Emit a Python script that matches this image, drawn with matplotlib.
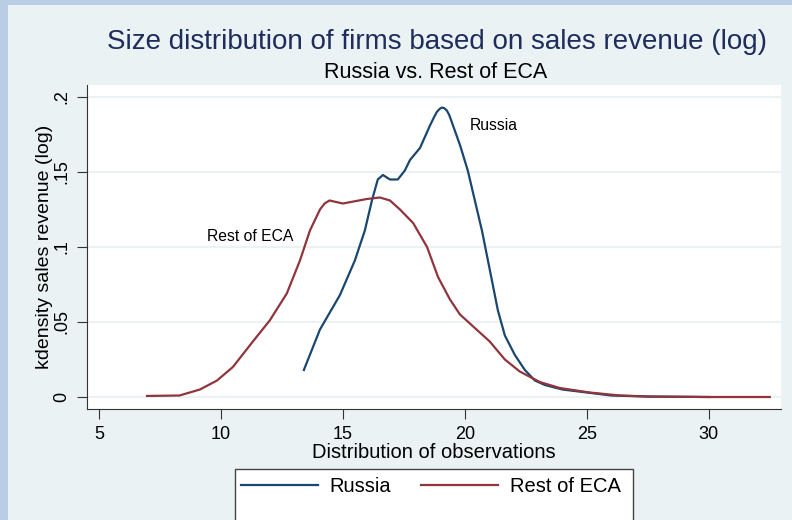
import matplotlib
matplotlib.use("Agg")
import matplotlib.pyplot as plt
from matplotlib.patches import Rectangle

plt.rcParams['font.family'] = ['Liberation Sans', 'DejaVu Sans']

# kernel density of log sales revenue
russia_x = [13.4, 14.06, 14.88, 15.49, 15.9, 16.19, 16.43, 16.64, 16.93, 17.25, 17.54,
            17.75, 18.16, 18.57, 18.72, 18.85, 18.96, 19.06, 19.16, 19.26, 19.36, 19.47,
            19.8, 20.12, 20.41, 20.7, 21.02, 21.35, 21.64, 22.05, 22.46, 22.87, 23.28,
            24.0, 25.0, 26.0, 27.5, 30.0]
russia_y = [0.018, 0.045, 0.068, 0.091, 0.111, 0.131, 0.145, 0.148, 0.145, 0.145, 0.151,
            0.158, 0.166, 0.181, 0.186, 0.190, 0.192, 0.193, 0.1925, 0.191, 0.188, 0.183,
            0.168, 0.151, 0.131, 0.111, 0.085, 0.058, 0.041, 0.028, 0.018, 0.011, 0.008,
            0.005, 0.003, 0.001, 0.0003, 0.0]

rest_x = [6.97, 8.3, 9.14, 9.84, 10.49, 11.31, 12.0, 12.7, 13.24, 13.65, 14.06, 14.25,
          14.45, 15.0, 15.98, 16.52, 16.93, 17.34, 17.88, 18.45, 18.9, 19.39, 19.8, 20.41,
          21.02, 21.64, 22.25, 23.07, 23.89, 25.12, 26.35, 27.6, 30.0, 32.5]
rest_y = [0.0007, 0.001, 0.005, 0.011, 0.020, 0.037, 0.051, 0.069, 0.091, 0.111, 0.125, 0.129,
          0.131, 0.129, 0.132, 0.133, 0.131, 0.125, 0.116, 0.100, 0.080, 0.065, 0.055, 0.046,
          0.037, 0.025, 0.017, 0.010, 0.006, 0.003, 0.001, 0.0003, 0.0, 0.0]

x_ticks = [5, 10, 15, 20, 25, 30]
y_ticks = [0, 0.05, 0.1, 0.15, 0.2]
y_tick_labels = ['0', '.05', '.1', '.15', '.2']

navy = '#1a476f'
maroon = '#90353b'
region = '#eaf2f3'

fig = plt.figure(figsize=(7.92, 5.2), dpi=100, facecolor='#b9cde5')
fig.patches.append(Rectangle((8 / 792, 0), 1, 1 - 5 / 520, transform=fig.transFigure,
                             facecolor=region, edgecolor='none', zorder=-10))

ax = fig.add_axes([87 / 792, 1 - 409 / 520, (781 - 87) / 792, (409 - 85) / 520])
ax.set_facecolor('white')

ax.plot(russia_x, russia_y, color=navy, lw=1.6, label='Russia')
ax.plot(rest_x, rest_y, color=maroon, lw=1.6, label='Rest of ECA')

ax.set_xlim(4.51, 32.96)
ax.set_ylim(-0.008, 0.208)
ax.set_xticks(x_ticks)
ax.set_yticks(y_ticks)
ax.set_yticklabels(y_tick_labels, rotation=90, va='center')
ax.tick_params(labelsize=13, length=7, color='#333333', direction='out', pad=5)
ax.grid(axis='y', color=region, lw=1.5)
ax.set_axisbelow(True)
for s in ['top', 'right']:
    ax.spines[s].set_visible(False)
for s in ['left', 'bottom']:
    ax.spines[s].set_color('#333333')

ax.set_xlabel('Distribution of observations', fontsize=14.5, labelpad=0)
ax.set_ylabel('kdensity sales revenue (log)', fontsize=14, labelpad=0)

ax.text(20.2, 0.181, 'Russia', fontsize=11.3, va='center')
ax.text(9.43, 0.107, 'Rest of ECA', fontsize=11.3, va='center')

fig.text(437 / 792, 1 - 42 / 520, 'Size distribution of firms based on sales revenue (log)',
         fontsize=20, color='#1e2d5c', ha='center', va='center')
fig.text(436 / 792, 1 - 73 / 520, 'Russia vs. Rest of ECA', fontsize=15.5, ha='center',
         va='center')

fig.patches.append(Rectangle((235 / 792, -0.1), (633 - 235) / 792, 0.1 + 51 / 520,
                             transform=fig.transFigure, facecolor='white',
                             edgecolor='#444444', lw=1))
fig.legend(loc='center', bbox_to_anchor=(431 / 792, 1 - 487 / 520), ncol=2, frameon=False,
           fontsize=14.5, handlelength=3.8, handletextpad=0.6, columnspacing=1.5)

fig.savefig('out.png', dpi=100, facecolor=fig.get_facecolor())
